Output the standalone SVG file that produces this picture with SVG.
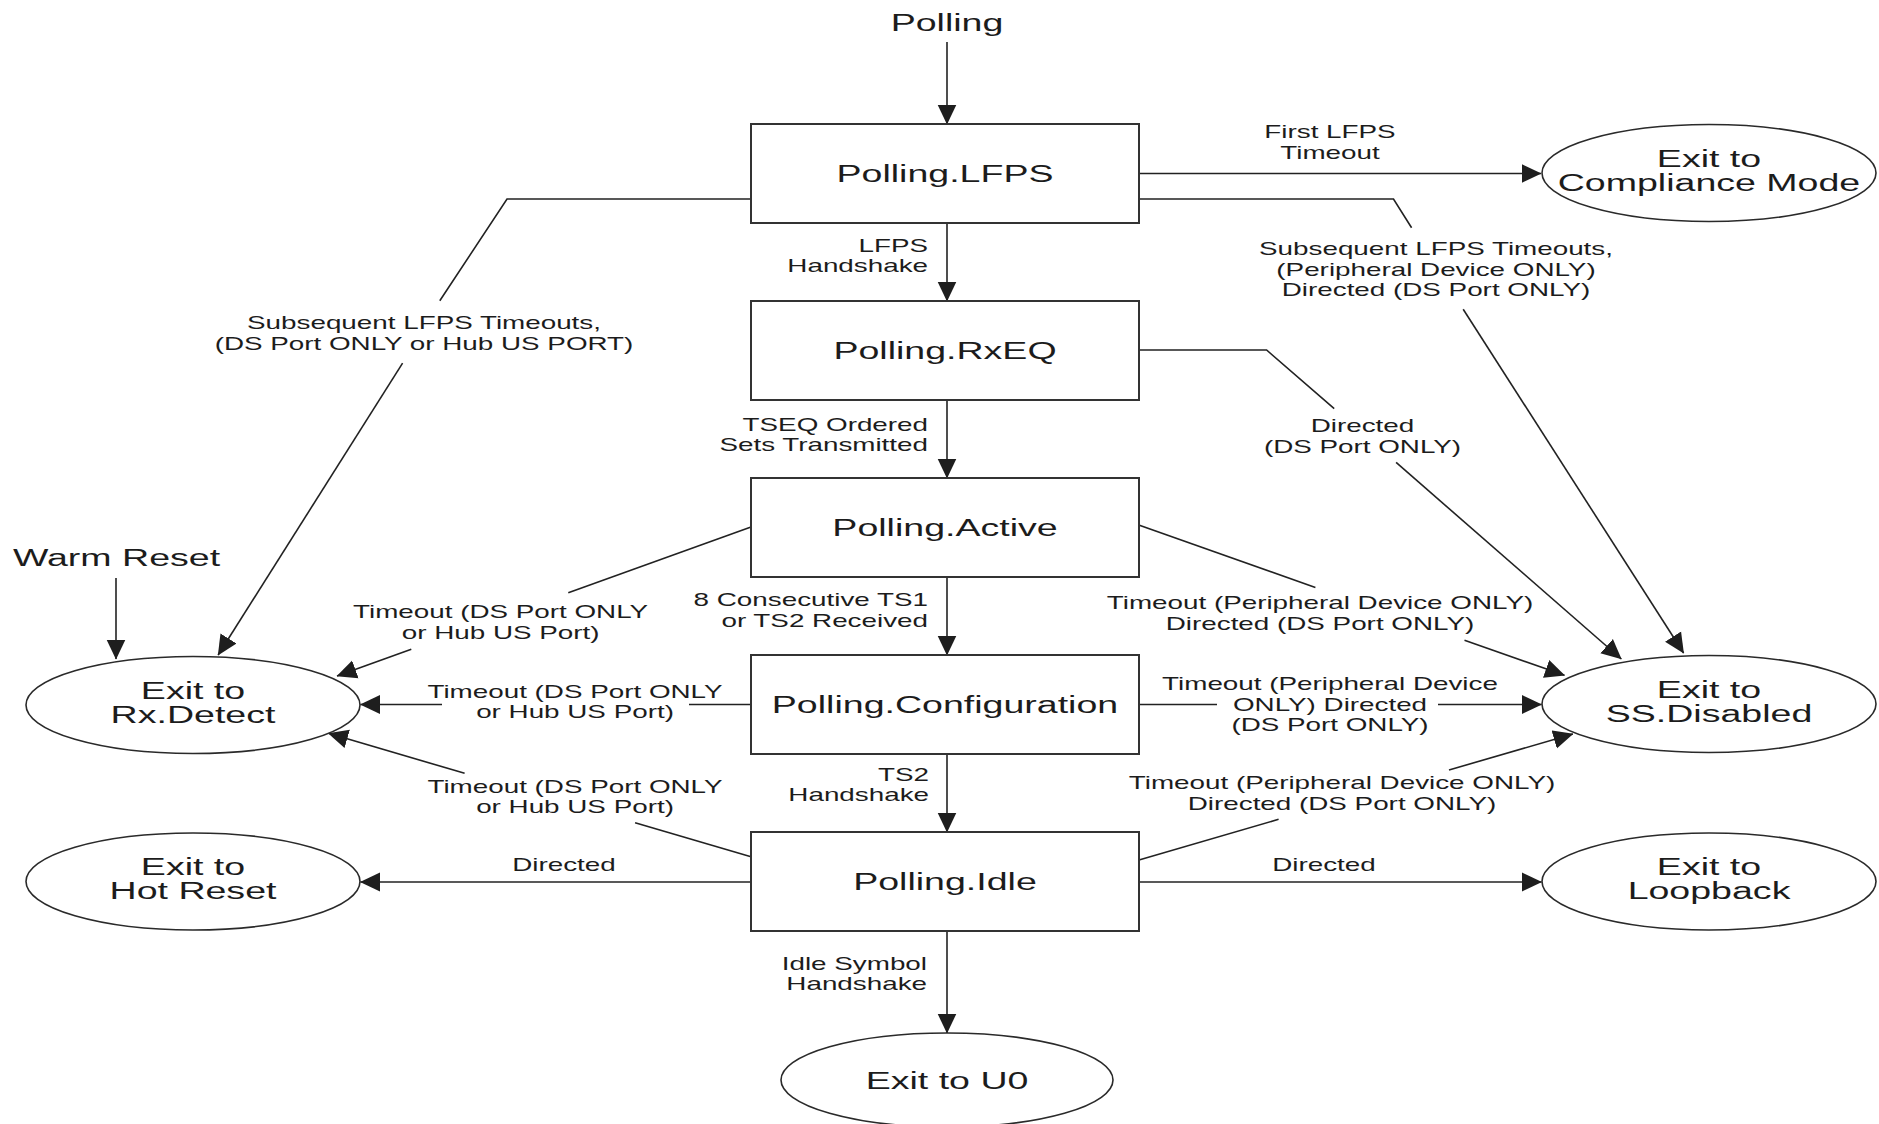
<svg xmlns="http://www.w3.org/2000/svg" width="1879" height="1124" viewBox="0 0 1879 1124">
  <defs>
    <marker id="arrow" markerUnits="userSpaceOnUse" markerWidth="20" markerHeight="20" viewBox="0 0 20 20" refX="19.5" refY="10" orient="auto">
      <path d="M0,0.5 L20,10 L0,19.5 Z" fill="#1e1e1e"/>
    </marker>
    <style>
      .box{fill:#fff;stroke:#333;stroke-width:2}
      .state{fill:#fff;stroke:#2a2a2a;stroke-width:1.6}
      .edge{fill:none;stroke:#222;stroke-width:1.6}
      .arr{marker-end:url(#arrow)}
      text{font-family:"Liberation Sans",Arial,Helvetica,sans-serif;fill:#1c1c1c}
      .big{font-size:24.7px;text-anchor:middle}
      .small{font-size:18.3px;text-anchor:middle}
      .end{text-anchor:end}
    </style>
  </defs>
  <rect width="1879" height="1124" fill="#fff"/>

  <!-- connectors -->
  <g id="connectors">
    <!-- main vertical flow -->
    <path class="edge arr" d="M947,42 V124"/>
    <path class="edge arr" d="M947,223 V301"/>
    <path class="edge arr" d="M947,400 V478"/>
    <path class="edge arr" d="M947,577 V655"/>
    <path class="edge arr" d="M947,754 V832"/>
    <path class="edge arr" d="M947,931 V1033"/>
    <path class="edge arr" d="M116,578 V659"/>

    <!-- Polling.LFPS exits -->
    <path class="edge arr" d="M1139,173.5 H1541"/>
    <path class="edge" d="M1139,199 H1393.5 L1411.6,227.7"/>
    <path class="edge arr" d="M1463.2,309.2 L1683.6,653"/>
    <path class="edge" d="M751,199 H507 L439.8,300.8"/>
    <path class="edge arr" d="M402.6,363.1 L218.1,655"/>

    <!-- Polling.RxEQ exit -->
    <path class="edge" d="M1139,350 H1266.6 L1334.2,408.7"/>
    <path class="edge arr" d="M1396.1,462.4 L1621.3,659"/>

    <!-- Polling.Active exits -->
    <path class="edge" d="M751,527 L568.3,592.7"/>
    <path class="edge arr" d="M411.3,649.3 L337,676"/>
    <path class="edge" d="M1139.4,525.3 L1315.4,587.4"/>
    <path class="edge arr" d="M1464.5,640.3 L1564.5,675.3"/>

    <!-- Polling.Configuration exits -->
    <path class="edge" d="M751,704.5 H689"/>
    <path class="edge arr" d="M442,704.5 H360.5"/>
    <path class="edge" d="M1139,704.5 H1217"/>
    <path class="edge arr" d="M1438,704.5 H1541.5"/>

    <!-- Polling.Idle exits -->
    <path class="edge" d="M751,856.7 L635.1,822.7"/>
    <path class="edge arr" d="M464.6,773.3 L328.5,733.3"/>
    <path class="edge" d="M1139,860 L1278.6,819.3"/>
    <path class="edge arr" d="M1449,770 L1572.9,734"/>
    <path class="edge arr" d="M751,882 H360.5"/>
    <path class="edge arr" d="M1139,882 H1541.5"/>
  </g>

  <!-- transition labels -->
  <g id="edge-labels">
    <text class="small end" transform="translate(928 251.5) scale(1.52 1)"><tspan x="0" y="0">LFPS</tspan><tspan x="0" y="20.7">Handshake</tspan></text>
    <text class="small end" transform="translate(928 430.5) scale(1.52 1)"><tspan x="0" y="0">TSEQ Ordered</tspan><tspan x="0" y="20.7">Sets Transmitted</tspan></text>
    <text class="small end" transform="translate(928 606) scale(1.52 1)"><tspan x="0" y="0">8 Consecutive TS1</tspan><tspan x="0" y="20.7">or TS2 Received</tspan></text>
    <text class="small end" transform="translate(929 780.5) scale(1.52 1)"><tspan x="0" y="0">TS2</tspan><tspan x="0" y="20.7">Handshake</tspan></text>
    <text class="small end" transform="translate(927 969.5) scale(1.52 1)"><tspan x="0" y="0">Idle Symbol</tspan><tspan x="0" y="20.7">Handshake</tspan></text>

    <text class="small" transform="translate(1330 138) scale(1.52 1)"><tspan x="0" y="0">First LFPS</tspan><tspan x="0" y="20.7">Timeout</tspan></text>
    <text class="small" transform="translate(1436 255) scale(1.52 1)"><tspan x="0" y="0">Subsequent LFPS Timeouts,</tspan><tspan x="0" y="20.7">(Peripheral Device ONLY)</tspan><tspan x="0" y="41.4">Directed (DS Port ONLY)</tspan></text>
    <text class="small" transform="translate(424 329) scale(1.52 1)"><tspan x="0" y="0">Subsequent LFPS Timeouts,</tspan><tspan x="0" y="20.7">(DS Port ONLY or Hub US PORT)</tspan></text>
    <text class="small" transform="translate(1362.5 432) scale(1.52 1)"><tspan x="0" y="0">Directed</tspan><tspan x="0" y="20.7">(DS Port ONLY)</tspan></text>

    <text class="small" transform="translate(500.6 618) scale(1.52 1)"><tspan x="0" y="0">Timeout (DS Port ONLY</tspan><tspan x="0" y="20.7">or Hub US Port)</tspan></text>
    <text class="small" transform="translate(575 697.5) scale(1.52 1)"><tspan x="0" y="0">Timeout (DS Port ONLY</tspan><tspan x="0" y="20.7">or Hub US Port)</tspan></text>
    <text class="small" transform="translate(575 792.5) scale(1.52 1)"><tspan x="0" y="0">Timeout (DS Port ONLY</tspan><tspan x="0" y="20.7">or Hub US Port)</tspan></text>

    <text class="small" transform="translate(1320 609) scale(1.52 1)"><tspan x="0" y="0">Timeout (Peripheral Device ONLY)</tspan><tspan x="0" y="20.7">Directed (DS Port ONLY)</tspan></text>
    <text class="small" transform="translate(1330 690) scale(1.52 1)"><tspan x="0" y="0">Timeout (Peripheral Device</tspan><tspan x="0" y="20.7">ONLY) Directed</tspan><tspan x="0" y="41.4">(DS Port ONLY)</tspan></text>
    <text class="small" transform="translate(1342 789) scale(1.52 1)"><tspan x="0" y="0">Timeout (Peripheral Device ONLY)</tspan><tspan x="0" y="20.7">Directed (DS Port ONLY)</tspan></text>

    <text class="small" transform="translate(564 871) scale(1.52 1)">Directed</text>
    <text class="small" transform="translate(1324 871) scale(1.52 1)">Directed</text>
  </g>

  <!-- entry points -->
  <g id="polling-entry">
    <text class="big" transform="translate(947 30.5) scale(1.52 1)">Polling</text>
  </g>
  <g id="warm-reset">
    <text class="big" transform="translate(116.5 566) scale(1.52 1)">Warm Reset</text>
  </g>

  <!-- polling substates -->
  <g id="polling-lfps">
    <rect class="box" x="751" y="124" width="388" height="99"/>
    <text class="big" transform="translate(945 182) scale(1.52 1)">Polling.LFPS</text>
  </g>
  <g id="polling-rxeq">
    <rect class="box" x="751" y="301" width="388" height="99"/>
    <text class="big" transform="translate(945 359) scale(1.52 1)">Polling.RxEQ</text>
  </g>
  <g id="polling-active">
    <rect class="box" x="751" y="478" width="388" height="99"/>
    <text class="big" transform="translate(945 536) scale(1.52 1)">Polling.Active</text>
  </g>
  <g id="polling-configuration">
    <rect class="box" x="751" y="655" width="388" height="99"/>
    <text class="big" transform="translate(945 713) scale(1.52 1)">Polling.Configuration</text>
  </g>
  <g id="polling-idle">
    <rect class="box" x="751" y="832" width="388" height="99"/>
    <text class="big" transform="translate(945 890) scale(1.52 1)">Polling.Idle</text>
  </g>

  <!-- exit states -->
  <g id="exit-compliance">
    <ellipse class="state" cx="1709" cy="173" rx="167" ry="48.5"/>
    <text class="big" transform="translate(1709 166.5) scale(1.52 1)"><tspan x="0" y="0">Exit to</tspan><tspan x="0" y="24.5">Compliance Mode</tspan></text>
  </g>
  <g id="exit-rx-detect">
    <ellipse class="state" cx="193" cy="705" rx="167" ry="48.5"/>
    <text class="big" transform="translate(193 698.5) scale(1.52 1)"><tspan x="0" y="0">Exit to</tspan><tspan x="0" y="24.5">Rx.Detect</tspan></text>
  </g>
  <g id="exit-hot-reset">
    <ellipse class="state" cx="193" cy="881.5" rx="167" ry="48.5"/>
    <text class="big" transform="translate(193 875) scale(1.52 1)"><tspan x="0" y="0">Exit to</tspan><tspan x="0" y="24.5">Hot Reset</tspan></text>
  </g>
  <g id="exit-ss-disabled">
    <ellipse class="state" cx="1709" cy="704" rx="167" ry="48.5"/>
    <text class="big" transform="translate(1709 697.5) scale(1.52 1)"><tspan x="0" y="0">Exit to</tspan><tspan x="0" y="24.5">SS.Disabled</tspan></text>
  </g>
  <g id="exit-loopback">
    <ellipse class="state" cx="1709" cy="881.5" rx="167" ry="48.5"/>
    <text class="big" transform="translate(1709 875) scale(1.52 1)"><tspan x="0" y="0">Exit to</tspan><tspan x="0" y="24.5">Loopback</tspan></text>
  </g>
  <g id="exit-u0">
    <ellipse class="state" cx="947" cy="1080" rx="166" ry="47"/>
    <text class="big" transform="translate(947 1088.5) scale(1.52 1)">Exit to U0</text>
  </g>
</svg>
